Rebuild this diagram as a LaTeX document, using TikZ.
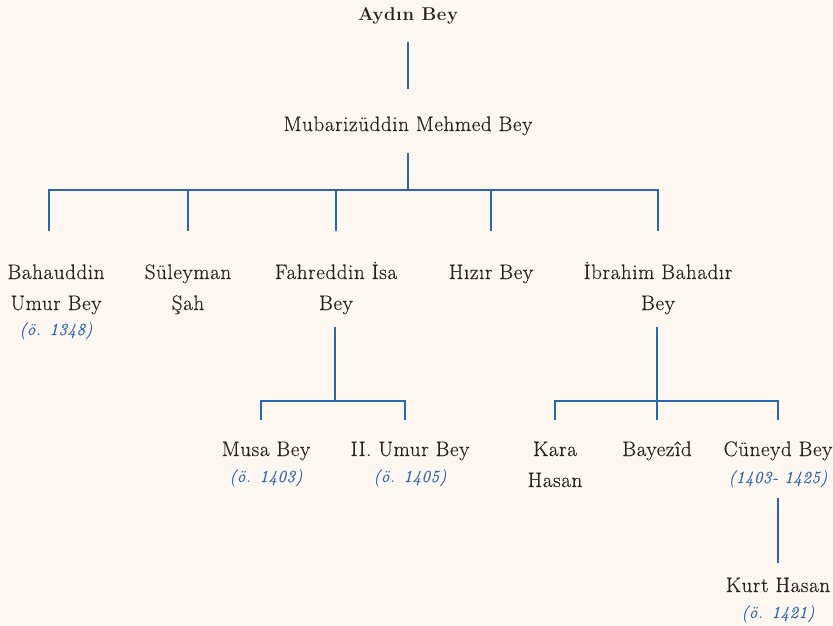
\documentclass[tikz,border=0pt]{standalone}
\usepackage{fontspec}
\setmainfont{Latin Modern Roman}[LetterSpace=3,
  UprightFeatures={FakeBold=0.4}, ItalicFeatures={FakeBold=0.3}]
\definecolor{paper}{HTML}{FCF8F1}
\definecolor{ink}{HTML}{262422}
\definecolor{tree}{HTML}{2F64B0}
\begin{document}
\begin{tikzpicture}[x=1pt,y=-1pt,
  person/.style={font=\fontsize{21}{31}\selectfont, text=ink, align=center,
    inner sep=0pt, anchor=base},
  date/.style={font=\fontsize{17}{18}\selectfont\itshape, text=tree,
    inner sep=0pt, anchor=base},
  link/.style={draw=tree, line width=1.6pt}]
  \fill[paper] (0,0) rectangle (833,626);
  \useasboundingbox (0,0) rectangle (833,626);
  % first two generations
  \node[person, font=\fontsize{18.5}{31}\selectfont\bfseries] (ayd) at (408,21) {Aydın Bey};
  \node[person] (mub) at (408,131) {Mubarizüddin Mehmed Bey};
  % sons of Mehmed Bey
  \node[person] (bah) at (56,310) {Bahauddin\\Umur Bey};
  \node[date] (bahd) at (56,335) {(ö. 1348)};
  \node[person] (sul) at (188,310) {Süleyman\\Şah};
  \node[person] (fah) at (336,310) {Fahreddin İsa\\Bey};
  \node[person] (hiz) at (491,279) {Hızır Bey};
  \node[person] (ibr) at (658,310) {İbrahim Bahadır\\Bey};
  % sons of Isa Bey
  \node[person] (mus) at (266,456) {Musa Bey};
  \node[date] (musd) at (266,482) {(ö. 1403)};
  \node[person] (umu) at (410,456) {II. Umur Bey};
  \node[date] (umud) at (410,482) {(ö. 1405)};
  % sons of Ibrahim Bey
  \node[person] (kar) at (555,487) {Kara\\Hasan};
  \node[person] (bay) at (657,456) {Bayezîd};
  \node[person] (cun) at (778,456) {Cüneyd Bey};
  \node[date] (cund) at (778,483) {(1403- 1425)};
  \node[person] (kur) at (778,592) {Kurt Hasan};
  \node[date] (kurd) at (778,618) {(ö. 1421)};
  % junctions and drop levels
  \coordinate (j1) at (408,190);
  \coordinate (j2) at (335,401);
  \coordinate (j3) at (657,401);
  \coordinate (r1) at (0,231);
  \coordinate (r2) at (0,420);
  % connectors
  \draw[link] ([yshift=-17pt]ayd.south) -- ([yshift=27pt]mub.north);
  \draw[link] ([yshift=-18pt]mub.south) -- (j1);
  \draw[link] (j1) -| ([xshift=-7pt]bah.north |- r1);
  \foreach \c in {sul,fah,hiz,ibr}
    \draw[link] (j1) -| (\c.north |- r1);
  \draw[link] ([yshift=-13pt]fah.south -| j2) -- (j2);
  \foreach \c in {mus,umu}
    \draw[link] (j2) -| ([xshift=-5pt]\c.north |- r2);
  \draw[link] ([yshift=-13pt]ibr.south -| j3) -- (j3);
  \foreach \c in {kar,bay,cun}
    \draw[link] (j3) -| (\c.north |- r2);
  \draw[link] ([yshift=-11pt]cund.south) -- ([yshift=14pt]kur.north);
\end{tikzpicture}
\end{document}
